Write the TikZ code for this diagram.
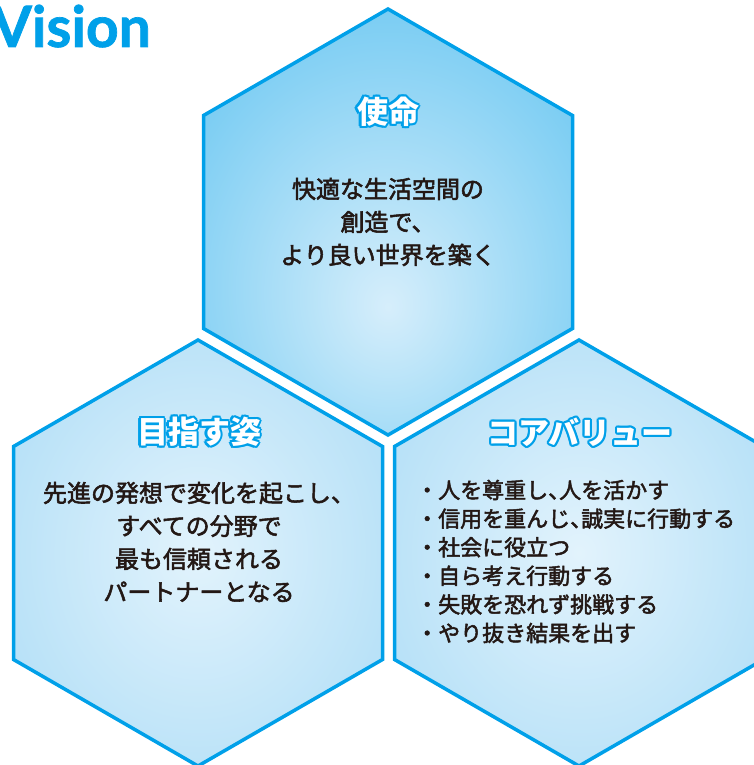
\documentclass[tikz,border=0pt]{standalone}
\usepackage{fontspec}
\setmainfont{Lato}
\newfontfamily\jp{Noto Sans CJK JP}
\newfontfamily\jpmed{Noto Sans CJK JP}[FakeBold=2.2]
\newfontfamily\visionfont{Lato}[FakeBold=1.2]
\definecolor{hexline}{RGB}{0,160,233}
\definecolor{textdark}{RGB}{35,24,21}
\definecolor{topin}{RGB}{214,238,251}
\definecolor{topout}{RGB}{70,186,238}
\definecolor{botin}{RGB}{226,243,252}
\definecolor{botout}{RGB}{150,211,244}
\pgfdeclareradialshading{hexTop}{\pgfpoint{0bp}{-10bp}}{color(0bp)=(topin); color(50bp)=(topout); color(100bp)=(topout)}
\pgfdeclareradialshading{hexBot}{\pgfpoint{0bp}{0bp}}{color(0bp)=(botin); color(50bp)=(botout); color(100bp)=(botout)}
\newcommand\oc[3]{\makebox[0pt][l]{\kern#1pt\raisebox{#2pt}{\textcolor{hexline}{#3}}}}
\newcommand\outlined[1]{\oc{2.2}{0}{#1}\oc{1.9}{1.1}{#1}\oc{1.1}{1.9}{#1}\oc{0}{2.2}{#1}\oc{-1.1}{1.9}{#1}\oc{-1.9}{1.1}{#1}\oc{-2.2}{0}{#1}\oc{-1.9}{-1.1}{#1}\oc{-1.1}{-1.9}{#1}\oc{0}{-2.2}{#1}\oc{1.1}{-1.9}{#1}\oc{1.9}{-1.1}{#1}\textcolor{white}{#1}}
\newcommand\hc{\makebox[11pt][l]{、}}
\tikzset{
  hexbox/.style={draw=hexline, line width=3.5pt, line join=miter},
  hextitle/.style={inner sep=0pt, font=\jp\bfseries\fontsize{31}{31}\selectfont},
  jpbody/.style={inner sep=0pt, align=center, text=textdark, font=\jpmed\fontsize{24}{33}\selectfont},
  jplist/.style={inner sep=0pt, align=left, text=textdark, font=\jpmed\fontsize{22}{28.6}\selectfont},
}
\newcommand\hexat[2]{({#1},{#2-213}) -- ({#1+184.5},{#2-106.5}) -- ({#1+184.5},{#2+106.5}) -- ({#1},{#2+213}) -- ({#1-184.5},{#2+106.5}) -- ({#1-184.5},{#2-106.5}) -- cycle}
\begin{document}
\begin{tikzpicture}[x=1pt,y=-1pt]
\useasboundingbox (0,0) rectangle (754,765);
\clip (0,0) rectangle (754,765);
\fill[white] (0,0) rectangle (754,765);
% hexagons
\path[hexbox, shading=hexTop] \hexat{388}{222};
\path[hexbox, shading=hexBot] \hexat{198}{553};
\path[hexbox, shading=hexBot] \hexat{579}{553};
% title
\node[anchor=base east, inner sep=0pt, text=hexline, font=\visionfont\bfseries\fontsize{57}{57}\selectfont] (vision) at (151,47) {Vision};
% top hexagon
\node[hextitle] (t1) at (388,112) {\outlined{使命}};
\node[jpbody] (b1) at (388,222) {快適な生活空間の\\創造で、\\より良い世界を築く};
% bottom-left hexagon
\node[hextitle] (t2) at (199,432) {\outlined{目指す姿}};
\node[jpbody] (b2) at (199,542) {先進の発想で変化を起こし、\\すべての分野で\\最も信頼される\\パートナーとなる};
% bottom-right hexagon
\node[hextitle] (t3) at (580,432) {\outlined{コアバリュー}};
\node[jplist, anchor=west] (b3) at (416,561.5) {・人を尊重し\hc 人を活かす\\・信用を重んじ\hc 誠実に行動する\\・社会に役立つ\\・自ら考え行動する\\・失敗を恐れず挑戦する\\・やり抜き結果を出す};
\end{tikzpicture}
\end{document}
